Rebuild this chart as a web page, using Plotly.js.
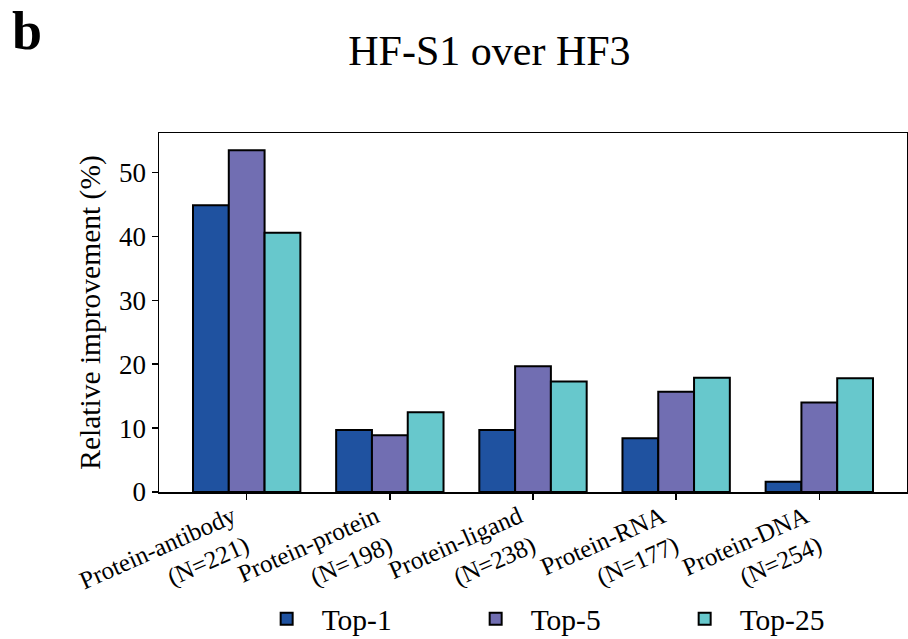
<!DOCTYPE html>
<html>
<head>
<meta charset="utf-8">
<script src="https://cdn.plot.ly/plotly-3.0.1.min.js"></script>
<style>
  html, body { margin: 0; padding: 0; background: #fff; }
  #chart { width: 908px; height: 639px; }
</style>
</head>
<body>
<div id="chart"></div>
<script>
// Relative improvement of HF-S1 over HF3, per interaction type
const categories = [
  'Protein-antibody<br>(N=221)',
  'Protein-protein<br>(N=198)',
  'Protein-ligand<br>(N=238)',
  'Protein-RNA<br>(N=177)',
  'Protein-DNA<br>(N=254)'
];
const top1  = [44.9, 9.7, 9.7, 8.4, 1.6];
const top5  = [53.5, 8.9, 19.7, 15.7, 14.0];
const top25 = [40.6, 12.5, 17.3, 17.9, 17.8];
const seriesNames = ['Top-1', 'Top-5', 'Top-25'];
const colors = ['#1f52a0', '#716eb2', '#67c8cc'];

const FONT = 'Liberation Serif, Times New Roman, serif';

const traces = [top1, top5, top25].map((vals, i) => ({
  type: 'bar',
  name: seriesNames[i],
  x: categories,
  y: vals,
  marker: { color: colors[i], line: { color: '#000', width: 2 } },
  hoverinfo: 'x+y'
}));

const layout = {
  width: 908,
  height: 639,
  margin: { l: 159, r: 1, t: 133, b: 147, pad: 0 },
  paper_bgcolor: '#fff',
  plot_bgcolor: '#fff',
  font: { family: FONT, color: '#000' },
  barmode: 'group',
  bargap: 0.25,
  bargroupgap: 0,
  title: {
    text: 'HF-S1 over HF3',
    font: { family: FONT, size: 42, color: '#000' },
    xref: 'container', x: 0.539, xanchor: 'center',
    yref: 'container', y: 0.922, yanchor: 'middle'
  },
  xaxis: {
    type: 'category',
    range: [-0.6125, 4.6125],
    showline: true, mirror: true, linecolor: '#000', linewidth: 1.5,
    ticks: 'outside', ticklen: 6, tickwidth: 1.5, tickcolor: '#000',
    tickangle: -24,
    ticklabelshift: -14,
    ticklabelstandoff: -7,
    tickfont: { family: FONT, size: 25, color: '#000' },
    showgrid: false, zeroline: false
  },
  yaxis: {
    range: [0, 56.2],
    dtick: 10,
    showline: true, mirror: true, linecolor: '#000', linewidth: 1.5,
    ticks: 'outside', ticklen: 6, tickwidth: 1.5, tickcolor: '#000',
    tickfont: { family: FONT, size: 27, color: '#000' },
    title: { text: 'Relative improvement (%)', font: { family: FONT, size: 29.5, color: '#000' }, standoff: 10 },
    showgrid: false, zeroline: false
  },
  legend: {
    orientation: 'h',
    xref: 'paper', x: 0.543, xanchor: 'center',
    yref: 'container', y: 0.031, yanchor: 'middle',
    font: { family: FONT, size: 29.5, color: '#000' },
    itemwidth: 60,
    entrywidth: 134, entrywidthmode: 'pixels',
    bgcolor: 'rgba(0,0,0,0)'
  },
  annotations: [{
    text: '<b>b</b>',
    xref: 'paper', yref: 'paper',
    x: -0.199, y: 1.372, xanchor: 'left', yanchor: 'top',
    showarrow: false,
    font: { family: FONT, size: 54, color: '#000' }
  }]
};

Plotly.newPlot('chart', traces, layout, { displayModeBar: false, staticPlot: true });
</script>
</body>
</html>
